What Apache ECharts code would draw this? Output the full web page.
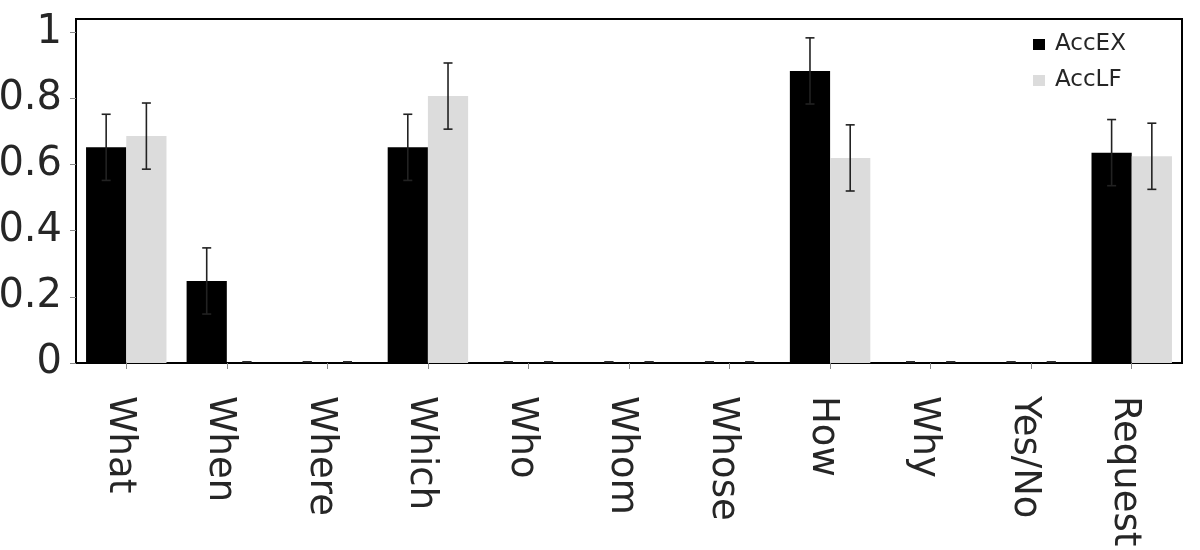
<!DOCTYPE html>
<html>
<head>
<meta charset="utf-8">
<script src="https://cdn.jsdelivr.net/npm/echarts@6/dist/echarts.min.js"></script>
<style>html,body{margin:0;padding:0;background:#fff}#c{width:1200px;height:550px}</style>
</head>
<body>
<div id="c"></div>
<script>
var categories = ['What','When','Where','Which','Who','Whom','Whose','How','Why','Yes/No','Request'];
var accEX = [0.652, 0.248, 0, 0.652, 0, 0, 0, 0.883, 0, 0, 0.636];
var accLF = [0.686, 0, 0, 0.807, 0, 0, 0, 0.620, 0, 0, 0.625];
var errEX = [0.1, 0.1, 0, 0.1, 0, 0, 0, 0.1, 0, 0, 0.1];
var errLF = [0.1, 0, 0, 0.1, 0, 0, 0, 0.1, 0, 0, 0.1];
var yTicks = [0, 0.2, 0.4, 0.6, 0.8, 1];

var FONT = 'DejaVu Sans';
function errSeries(vals, errs, side) {
  return {
    type: 'custom',
    silent: true,
    z: 10,
    data: vals.map(function (v, i) { return [i, v, errs[i]]; }),
    renderItem: function (params, api) {
      var i = api.value(0), v = api.value(1), e = api.value(2);
      var band = api.size([1, 0])[0];
      var c = api.coord([i, v]);
      var x = c[0] + side * band * 0.2;
      var top = api.coord([i, v + e])[1];
      var bot = api.coord([i, v - e])[1];
      if (e === 0) { top -= 1; bot -= 1; }
      var cap = 4.5;
      var st = { stroke: '#222', lineWidth: 1.6 };
      return {
        type: 'group',
        children: [
          { type: 'line', shape: { x1: x, y1: top, x2: x, y2: bot }, style: st },
          { type: 'line', shape: { x1: x - cap, y1: top, x2: x + cap, y2: top }, style: st },
          { type: 'line', shape: { x1: x - cap, y1: bot, x2: x + cap, y2: bot }, style: st }
        ]
      };
    }
  };
}

var chart = echarts.init(document.getElementById('c'));
chart.setOption({
  animation: false,
  grid: { left: 76, right: 18, top: 19, bottom: 187, show: true, borderColor: '#000', borderWidth: 2,
    backgroundColor: 'transparent', containLabel: false, outerBoundsMode: 'none' },
  legend: {
    orient: 'vertical', left: 1028, top: 28, itemWidth: 12, itemHeight: 11, itemGap: 13,
    textStyle: { fontFamily: FONT, fontSize: 23, color: '#262626', padding: [0, 0, 0, 5] },
    data: [{ name: 'AccEX', icon: 'rect' }, { name: 'AccLF', icon: 'rect' }]
  },
  xAxis: {
    type: 'category', data: categories,
    axisLine: { show: true, lineStyle: { color: '#000', width: 2 } },
    axisTick: { show: true, alignWithLabel: true, length: 6, lineStyle: { color: '#888' } },
    axisLabel: { rotate: -90, margin: 33, fontFamily: FONT, fontSize: 37, color: '#262626', interval: 0,
      verticalAlign: 'top', lineHeight: 14 }
  },
  yAxis: {
    type: 'value', min: 0, max: 1.04,
    splitLine: { show: false },
    axisLine: { show: true, lineStyle: { color: '#000', width: 2 } },
    axisTick: { show: true, length: 6, lineStyle: { color: '#888' }, customValues: yTicks },
    axisLabel: { margin: 14, fontFamily: FONT, fontSize: 40, color: '#262626', customValues: yTicks,
      formatter: function (v) { return String(+v.toFixed(2)); } }
  },
  series: [
    { name: 'AccEX', type: 'bar', data: accEX, barWidth: '40%', barGap: '0%',
      itemStyle: { color: '#000' } },
    { name: 'AccLF', type: 'bar', data: accLF, barWidth: '40%', barGap: '0%',
      itemStyle: { color: '#dcdcdc' } },
    errSeries(accEX, errEX, -1),
    errSeries(accLF, errLF, 1)
  ]
});
</script>
</body>
</html>
